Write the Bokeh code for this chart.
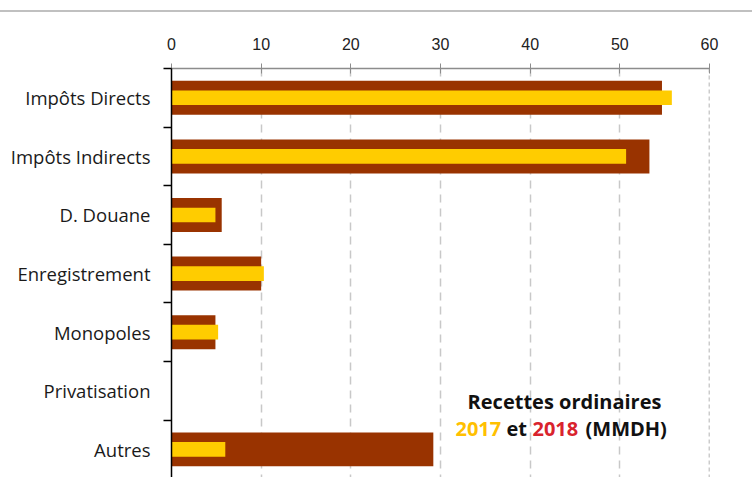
from bokeh.plotting import figure
from bokeh.models import Range1d, FixedTicker, Label, Span, ColumnDataSource, Div
from bokeh.layouts import column
from bokeh.embed import file_html
from bokeh.resources import INLINE

categories = ["Impôts Directs", "Impôts Indirects", "D. Douane", "Enregistrement",
              "Monopoles", "Privatisation", "Autres"]
values_2018 = [54.7, 53.3, 5.6, 10.0, 4.9, 0.0, 29.2]
values_2017 = [55.8, 50.7, 4.9, 10.3, 5.2, 0.0, 6.0]
x_ticks = [0, 10, 20, 30, 40, 50, 60]

pos = list(range(len(categories)))
src = ColumnDataSource(dict(y=pos, v18=values_2018, v17=values_2017))

top_rule = Div(text="", width=752, height=12, margin=0,
               styles={"border-bottom": "2px solid #c0c0c0", "box-sizing": "border-box"})

p = figure(width=752, height=465, output_backend="svg", toolbar_location=None,
           x_range=Range1d(0, 60), y_range=Range1d(6.48, -0.5),
           x_axis_location="above", margin=0,
           min_border_left=171, min_border_right=43, min_border_top=56, min_border_bottom=0)

p.hbar(y="y", left=0, right="v18", height=0.58, fill_color="#993300", line_color=None, source=src)
p.hbar(y="y", left=0, right="v17", height=0.25, fill_color="#FFCC00", line_color=None, source=src)

p.outline_line_color = None
p.background_fill_color = "white"
p.border_fill_color = "white"

# x axis (top)
xa = p.xaxis[0]
xa.ticker = FixedTicker(ticks=x_ticks)
xa.axis_line_color = "#8c8c8c"
xa.axis_line_width = 1.5
xa.major_tick_line_color = "#8c8c8c"
xa.major_tick_in = 5
xa.major_tick_out = 5
xa.minor_tick_in = 0
xa.minor_tick_out = 0
xa.major_label_text_font = "Liberation Sans"
xa.major_label_text_font_size = "16px"
xa.major_label_text_color = "#222222"
xa.major_label_standoff = 14

# y axis (categories)
ya = p.yaxis[0]
ya.ticker = FixedTicker(ticks=pos, minor_ticks=[-0.5] + [i + 0.5 for i in pos])
ya.major_label_overrides = {i: c for i, c in zip(pos, categories)}
ya.major_tick_in = 0
ya.major_tick_out = 0
ya.minor_tick_in = 0
ya.minor_tick_out = 8
ya.minor_tick_line_color = "black"
ya.minor_tick_line_width = 1.5
ya.axis_line_color = "black"
ya.axis_line_width = 1.5
ya.major_label_text_font = "Open Sans"
ya.major_label_text_font_size = "18.5px"
ya.major_label_text_color = "#1a1a1a"
ya.major_label_standoff = 13

p.xgrid.ticker = FixedTicker(ticks=x_ticks[1:-1])
p.xgrid.grid_line_color = "#c8c8c8"
p.xgrid.grid_line_dash = "8 6"
p.xgrid.grid_line_width = 1.5
p.ygrid.visible = False

p.add_layout(Span(location=60, dimension="height", line_color="#9a9a9a",
                  line_dash="4 3", line_width=1.5))

font = "Open Sans"
p.add_layout(Label(x=43.83, y=5.18, text="Recettes ordinaires", text_align="center",
                   text_baseline="middle", text_font=font, text_font_style="bold",
                   text_font_size="20px", text_color="#111111"))
pieces = [("2017", 31.67, "#FFC000"), ("et", 37.36, "#111111"),
          ("2018", 40.26, "#D9232D"), ("(MMDH)", 46.17, "#111111")]
for t, xx, c in pieces:
    p.add_layout(Label(x=xx, y=5.65, text=t, text_align="left", text_baseline="middle",
                       text_font=font, text_font_style="bold", text_font_size="20px",
                       text_color=c))

layout = column(top_rule, p, spacing=0, margin=0)
open("out.html", "w").write(file_html(layout, INLINE))
